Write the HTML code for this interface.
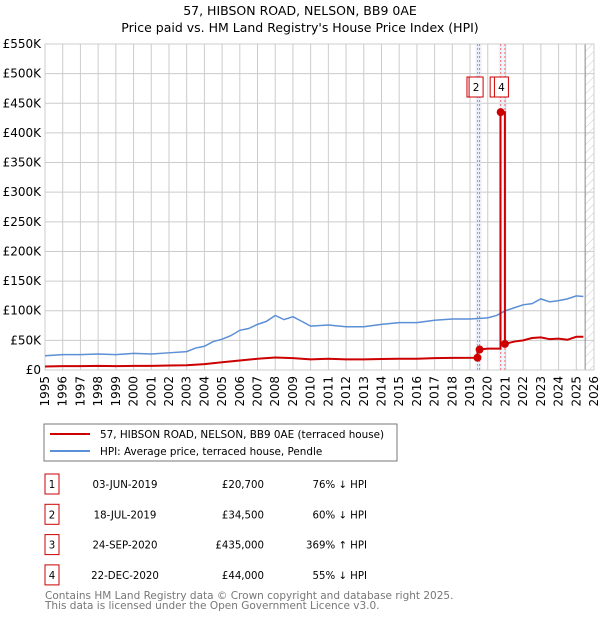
<!DOCTYPE html>
<html><head><meta charset="utf-8"><style>
body{margin:0;background:#fff;width:600px;height:620px;overflow:hidden;font-family:"DejaVu Sans","Liberation Sans",sans-serif}
svg text{font-family:"DejaVu Sans","Liberation Sans",sans-serif}
</style></head><body>
<svg id="c" width="600" height="620" xmlns="http://www.w3.org/2000/svg">
<defs><pattern id="hatch" width="6" height="6" patternUnits="userSpaceOnUse" patternTransform="rotate(45)"><line x1="0" y1="0" x2="0" y2="6" stroke="#ccc" stroke-width="1"/></pattern></defs>
<text x="300" y="15" text-anchor="middle" font-size="12.5">57, HIBSON ROAD, NELSON, BB9 0AE</text>
<text x="300" y="32" text-anchor="middle" font-size="12.5">Price paid vs. HM Land Registry's House Price Index (HPI)</text>
<g id="grid"></g><g id="marks"></g><g id="axes"></g>
<rect x="44" y="424" width="353" height="37" fill="#fff" stroke="#777"/>
<line x1="50" y1="434" x2="90" y2="434" stroke="#cc0000" stroke-width="2"/>
<text x="100" y="438" font-size="10.4">57, HIBSON ROAD, NELSON, BB9 0AE (terraced house)</text>
<line x1="50" y1="451" x2="90" y2="451" stroke="#5b8fd6" stroke-width="2"/>
<text x="100" y="455" font-size="10.4">HPI: Average price, terraced house, Pendle</text>
<g id="table" font-size="10.2"></g>
<text x="45" y="599" font-size="10.5" fill="#777">Contains HM Land Registry data © Crown copyright and database right 2025.</text>
<text x="45" y="609" font-size="10.5" fill="#777">This data is licensed under the Open Government Licence v3.0.</text>
</svg>
<script>
const hpiYears=[1995,1996,1997,1998,1999,2000,2001,2002,2003,2003.5,2004,2004.5,2005,2005.5,2006,2006.5,2007,2007.5,2008,2008.5,2009,2009.5,2010,2011,2012,2013,2014,2015,2016,2017,2018,2019,2020,2020.5,2021,2021.5,2022,2022.5,2023,2023.5,2024,2024.5,2025,2025.4];
const hpiValues=[24000,26000,26000,27000,26000,28000,27000,29000,31000,37000,40000,48000,52000,58000,67000,70000,77000,82000,92000,85000,90000,82000,74000,76000,73000,73000,77000,80000,80000,84000,86000,86000,88000,92000,100000,105000,110000,112000,120000,115000,117000,120000,125000,124000];
const priceYears=[1995,1996,1997,1998,1999,2000,2001,2002,2003,2004,2005,2006,2007,2008,2009,2010,2011,2012,2013,2014,2015,2016,2017,2018,2019.42,2019.42,2019.54,2020.0,2020.72,2020.72,2020.97,2020.97,2021.5,2022,2022.5,2023,2023.5,2024,2024.5,2025,2025.4];
const priceValues=[6000,6500,6500,7000,6500,7000,7000,7500,8000,10000,13000,16000,19000,21000,20000,18000,19000,18000,18000,18500,19000,19000,20000,20500,20700,34500,34500,36000,36000,435000,435000,44000,48000,50000,54000,55000,52000,53000,51000,56000,56000];
const saleLabels=["1","2","3","4"];
const saleYears=[2019.42,2019.54,2020.73,2020.97];
const saleValues=[20700,34500,435000,44000];
const saleDates=["03-JUN-2019","18-JUL-2019","24-SEP-2020","22-DEC-2020"];
const salePrices=["£20,700","£34,500","£435,000","£44,000"];
const saleHpi=["76% ↓ HPI","60% ↓ HPI","369% ↑ HPI","55% ↓ HPI"];
const yTicks=[0,50000,100000,150000,200000,250000,300000,350000,400000,450000,500000,550000];
const yTickLabels=["£0","£50K","£100K","£150K","£200K","£250K","£300K","£350K","£400K","£450K","£500K","£550K"];
const xTicks=[1995,1996,1997,1998,1999,2000,2001,2002,2003,2004,2005,2006,2007,2008,2009,2010,2011,2012,2013,2014,2015,2016,2017,2018,2019,2020,2021,2022,2023,2024,2025,2026];
const NS="http://www.w3.org/2000/svg";
const L=45,R=594,T=44,B=370;
const x=v=>L+(v-1995)/31*(R-L);
const y=v=>B-v/550000*(B-T);
function mk(p,tag,at){const e=document.createElementNS(NS,tag);for(const k in at)e.setAttribute(k,at[k]);p.appendChild(e);return e;}
const g=document.getElementById('grid'),m=document.getElementById('marks'),a=document.getElementById('axes'),tb=document.getElementById('table');
mk(g,'rect',{x:x(2025.5),y:T,width:R-x(2025.5),height:B-T,fill:'url(#hatch)'});
yTicks.forEach((v,i)=>{const l=mk(g,'line',{x1:L,x2:R,y1:y(v),y2:y(v),stroke:'#ccc'});


const t=mk(a,'text',{x:L-4,y:y(v)+4,'text-anchor':'end','font-size':'12'});t.textContent=yTickLabels[i];

});
xTicks.forEach(v=>{const l=mk(g,'line',{x1:x(v),x2:x(v),y1:T,y2:B,stroke:'#ccc'});


const t=mk(a,'text',{transform:`translate(${x(v)+4},${B+6}) rotate(-90)`,'text-anchor':'end','font-size':'12'});t.textContent=v;

});
mk(g,'line',{x1:x(2025.5),x2:x(2025.5),y1:T,y2:B,stroke:'#888'});
mk(g,'rect',{x:L,y:T,width:R-L,height:B-T,fill:'none',stroke:'#ccc'});
saleYears.forEach(v=>{mk(m,'rect',{x:x(v)-2,y:T,width:4,height:B-T,fill:'#dde8f8',opacity:0.5});
const l=mk(m,'line',{x1:x(v),x2:x(v),y1:T,y2:B,stroke:'#f07070','stroke-dasharray':'2,2'});

});
const hp=mk(m,'polyline',{points:hpiYears.map((v,i)=>x(v)+','+y(hpiValues[i])).join(' '),fill:'none',stroke:'#5b8fd6','stroke-width':1.5});


const pp=mk(m,'polyline',{points:priceYears.map((v,i)=>x(v)+','+y(priceValues[i])).join(' '),fill:'none',stroke:'#cc0000','stroke-width':2});


saleYears.forEach((v,i)=>{const c=mk(m,'circle',{cx:x(v),cy:y(saleValues[i]),r:4,fill:'#cc0000'});


const bx=x(v)-10.5;const r=mk(m,'rect',{x:bx,y:77,width:14,height:20,fill:'#fff',stroke:'#cc0000'});


const t=mk(m,'text',{x:bx+7,y:91,'text-anchor':'middle','font-size':'10.5'});t.textContent=saleLabels[i];

});
saleLabels.forEach((s,i)=>{const yy=484+i*30.3;
const r=mk(tb,'rect',{x:45,y:yy-10,width:14,height:20,fill:'#fff',stroke:'#cc0000'});


const cols=[[52,s,'middle'],[125,saleDates[i],'middle'],[264,salePrices[i],'end'],[367,saleHpi[i],'end']];
cols.forEach(c=>{const t=mk(tb,'text',{x:c[0],y:yy+4,'text-anchor':c[2]});t.textContent=c[1];

});});
</script>
</body></html>
